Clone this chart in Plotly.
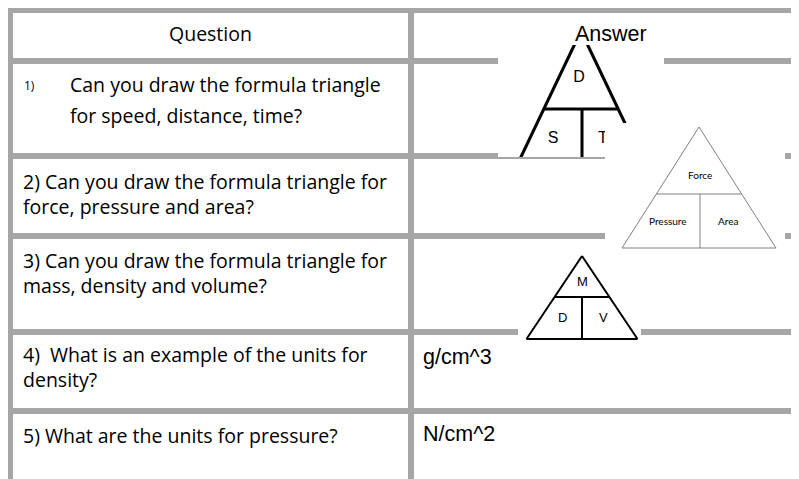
import plotly.graph_objects as go

# 表の中身
headers = ["Question", "Answer"]
question_lines = [
    ["Can you draw the formula triangle", "for speed, distance, time?"],
    ["2) Can you draw the formula triangle for", "force, pressure and area?"],
    ["3) Can you draw the formula triangle for", "mass, density and volume?"],
    ["4)  What is an example of the units for", "density?"],
    ["5) What are the units for pressure?"],
]
list_marker = "1)"
answers = ["", "", "", "g/cm^3", "N/cm^2"]

# 公式三角形のラベル（上, 左下, 右下）
speed_labels = ["D", "S", "T"]
pressure_labels = ["Force", "Pressure", "Area"]
density_labels = ["M", "D", "V"]

W, H = 799, 479
PAD = 8  # ページ本体の余白
GRID = "#a6a6a6"
Q_FONT = "Open Sans"
Q_SIZE = 19.5
A_FONT = "Liberation Sans"
A_SIZE = 21.5

# 罫線の位置
row_lines = [10, 61, 156, 236, 332, 411]
col_lines = [10, 411]
text_y = [None, 193.5, 273, 366.5, 435]
answer_y = [None, None, None, 357, 434]

fig = go.Figure()
shapes = []
annotations = []


def seg(x0, y0, x1, y1, color, width, layer="below"):
    shapes.append(dict(type="line", x0=x0, y0=y0, x1=x1, y1=y1,
                       line=dict(color=color, width=width), layer=layer))


def white_box(x0, y0, x1, y1, layer="below"):
    shapes.append(dict(type="rect", x0=x0, y0=y0, x1=x1, y1=y1,
                       fillcolor="white", line=dict(width=0), layer=layer))


def triangle(apex_x, apex_y, base_y, half, split_y, color, width, layer,
             mid_x=None):
    """公式三角形の線を描く."""
    seg(apex_x, apex_y, apex_x - half, base_y, color, width, layer)
    seg(apex_x, apex_y, apex_x + half, base_y, color, width, layer)
    seg(apex_x - half, base_y, apex_x + half, base_y, color, width, layer)
    k = (split_y - apex_y) / (base_y - apex_y)
    seg(apex_x - half * k, split_y, apex_x + half * k, split_y, color, width, layer)
    mx = apex_x if mid_x is None else mid_x
    seg(mx, split_y, mx, base_y, color, width, layer)


# 罫線
for y in row_lines:
    seg(0, y, W, y, GRID, 6)
for x in col_lines:
    seg(x, 7, x, H, GRID, 6)

# 速さの三角形（切り抜かれた画像）
white_box(498, 44, 664, 157)
triangle(581, 31, 160, 61.5, 109, "black", 3, "below", mid_x=582)
white_box(540, 14, 630, 45)
white_box(498, 157, 664, 165)
seg(498, 158, 605, 158, GRID, 2)

# 速さの三角形のラベル（トレースなので圧力の画像に隠れる）
fig.add_trace(go.Scatter(
    x=[579, 553, 603], y=[78, 139, 139], mode="text", text=speed_labels,
    textfont=dict(family="Liberation Sans", size=16, color="black"),
    hoverinfo="skip", showlegend=False,
))

# 圧力の三角形
white_box(605, 123, 785, 250, layer="above")
triangle(699, 127, 248, 77, 194, "#808080", 1, "above", mid_x=700)

# 密度の三角形
white_box(518, 250, 641, 342, layer="above")
triangle(582, 256, 339, 55.5, 297, "black", 2, "above")

for txt, x, y in zip(pressure_labels, [700, 668, 728], [175, 221, 221]):
    annotations.append(dict(x=x, y=y, text=txt, showarrow=False,
                            font=dict(family="Lato", size=10, color="black")))
for txt, x, y in zip(density_labels, [582, 562, 603], [281, 317, 317]):
    annotations.append(dict(x=x, y=y, text=txt, showarrow=False,
                            font=dict(family="Liberation Sans", size=13, color="black")))

# 見出し
annotations.append(dict(x=210, y=33, text=headers[0], showarrow=False,
                        font=dict(family=Q_FONT, size=Q_SIZE, color="black")))
annotations.append(dict(x=611, y=34, text=headers[1], showarrow=False,
                        font=dict(family=A_FONT, size=A_SIZE, color="black")))

# 質問（1問目は箇条書きなので行間が広い）
annotations.append(dict(x=22, y=85, text=list_marker, showarrow=False,
                        xanchor="left", font=dict(family=Q_FONT, size=12, color="black")))
for txt, y in zip(question_lines[0], [84, 115]):
    annotations.append(dict(x=68, y=y, text=txt, showarrow=False, xanchor="left",
                            font=dict(family=Q_FONT, size=Q_SIZE, color="black")))
for lines, y in zip(question_lines[1:], text_y[1:]):
    annotations.append(dict(x=21, y=y, text="<br>".join(lines), showarrow=False,
                            xanchor="left", align="left",
                            font=dict(family=Q_FONT, size=Q_SIZE, color="black")))

# 答え
for txt, y in zip(answers, answer_y):
    if txt:
        annotations.append(dict(x=421, y=y, text=txt, showarrow=False, xanchor="left",
                                font=dict(family=A_FONT, size=A_SIZE, color="black")))

fig.update_layout(
    width=W - PAD, height=H - PAD,
    margin=dict(l=0, r=0, t=0, b=0),
    paper_bgcolor="white", plot_bgcolor="white",
    xaxis=dict(range=[PAD, W], visible=False, fixedrange=True),
    yaxis=dict(range=[H, PAD], visible=False, fixedrange=True),
    shapes=shapes, annotations=annotations,
    showlegend=False,
)

fig.write_html("out.html")
